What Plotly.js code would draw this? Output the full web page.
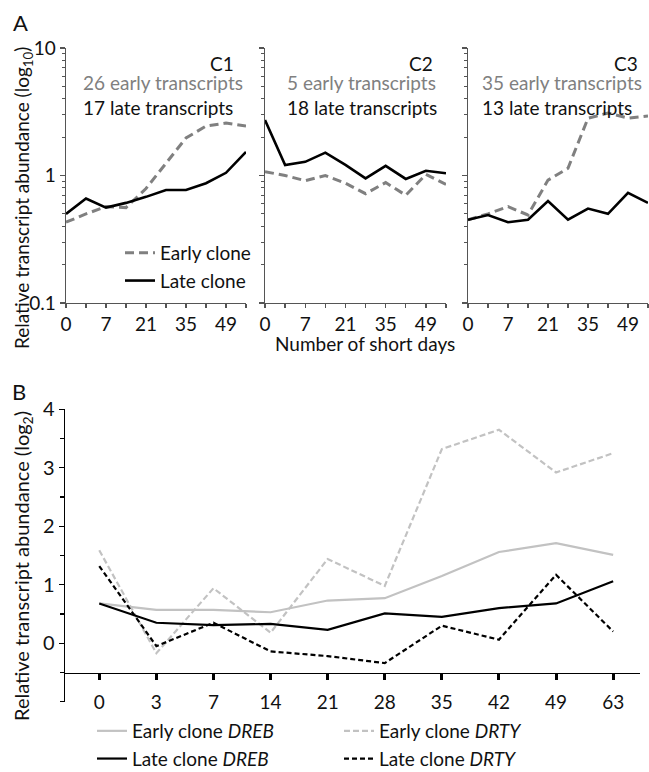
<!DOCTYPE html>
<html>
<head>
<meta charset="utf-8">
<script src="https://cdn.plot.ly/plotly-3.0.1.min.js"></script>
<style>
  html, body { margin: 0; padding: 0; background: #fff; }
  #chart { width: 649px; height: 772px; }
</style>
</head>
<body>
<div id="chart"></div>
<script>
// Sampling days (number of short days) shared by both panels
const sampleDays = ['0', '3', '7', '14', '21', '28', '35', '42', '49', '63'];
// Panel A labels every other sampling day
const labelledDaysA = ['0', '7', '21', '35', '49'];

// Panel A: cluster mean profiles, relative abundance (log10 axis)
const c1Early = [0.43, 0.50, 0.57, 0.56, 0.79, 1.25, 1.97, 2.44, 2.58, 2.44];
const c1Late  = [0.50, 0.66, 0.56, 0.61, 0.68, 0.77, 0.77, 0.87, 1.05, 1.53];
const c2Early = [1.07, 1.00, 0.91, 1.00, 0.87, 0.72, 0.88, 0.70, 1.02, 0.85];
const c2Late  = [2.72, 1.21, 1.28, 1.51, 1.21, 0.95, 1.19, 0.94, 1.09, 1.04];
const c3Early = [0.45, 0.50, 0.57, 0.49, 0.92, 1.14, 2.81, 3.09, 2.82, 2.93];
const c3Late  = [0.45, 0.49, 0.43, 0.45, 0.63, 0.45, 0.55, 0.50, 0.73, 0.61];

const clusterNames = ['C1', 'C2', 'C3'];
const earlyCounts = [26, 5, 35];
const lateCounts = [17, 18, 13];

// Panel B: DREB and DRTY expression (log2)
const earlyDREB = [0.68, 0.57, 0.57, 0.53, 0.73, 0.77, 1.15, 1.56, 1.71, 1.51];
const lateDREB  = [0.68, 0.35, 0.31, 0.33, 0.23, 0.51, 0.45, 0.60, 0.68, 1.06];
const earlyDRTY = [1.59, -0.17, 0.94, 0.18, 1.44, 0.98, 3.32, 3.65, 2.92, 3.25];
const lateDRTY  = [1.32, -0.05, 0.35, -0.14, -0.22, -0.34, 0.30, 0.06, 1.17, 0.20];

// Time points are plotted at equal spacing: position = order of the sampling day
const dayPos = sampleDays.map((_, i) => i);
const labelledPosA = labelledDaysA.map(d => sampleDays.indexOf(d));

const W = 649, H = 772;
const px = v => v / W;
const py = v => 1 - v / H;
const FONT = 'Lato, "Noto Sans", sans-serif';
const GREY_A = '#808080';
const GREY_B = '#c2c2c2';

const traces = [];
const panelA = [[c1Early, c1Late], [c2Early, c2Late], [c3Early, c3Late]];
panelA.forEach((pair, k) => {
  const ax = k === 0 ? '' : String(k + 1);
  traces.push({
    x: dayPos, y: pair[0], xaxis: 'x' + ax, yaxis: 'y' + ax,
    type: 'scatter', mode: 'lines', name: 'Early clone',
    line: { color: GREY_A, width: 3, dash: '9px,5px' },
    legend: 'legend2', showlegend: k === 0
  });
  traces.push({
    x: dayPos, y: pair[1], xaxis: 'x' + ax, yaxis: 'y' + ax,
    type: 'scatter', mode: 'lines', name: 'Late clone',
    line: { color: '#000', width: 2.6 },
    legend: 'legend2', showlegend: k === 0
  });
});

traces.push(
  { x: dayPos, y: earlyDREB, xaxis: 'x4', yaxis: 'y4', type: 'scatter', mode: 'lines',
    name: 'Early clone <i>DREB</i>', line: { color: GREY_B, width: 2.2 } },
  { x: dayPos, y: earlyDRTY, xaxis: 'x4', yaxis: 'y4', type: 'scatter', mode: 'lines',
    name: 'Early clone <i>DRTY</i>', line: { color: GREY_B, width: 2.2, dash: '6px,3px' } },
  { x: dayPos, y: lateDREB, xaxis: 'x4', yaxis: 'y4', type: 'scatter', mode: 'lines',
    name: 'Late clone <i>DREB</i>', line: { color: '#000', width: 2.2 } },
  { x: dayPos, y: lateDRTY, xaxis: 'x4', yaxis: 'y4', type: 'scatter', mode: 'lines',
    name: 'Late clone <i>DRTY</i>', line: { color: '#000', width: 2.2, dash: '5px,3px' } }
);
traces.slice(6).forEach(t => { t.legend = 'legend'; });

const minorLog = [0.2, 0.3, 0.4, 0.5, 0.6, 0.7, 0.8, 0.9, 2, 3, 4, 5, 6, 7, 8, 9];
const AXA = '#555';
function xA(dom, yname) {
  return {
    domain: dom, anchor: yname, type: 'linear', range: [0, dayPos.length - 1],
    tickvals: labelledPosA, ticktext: labelledDaysA,
    ticks: 'outside', ticklen: 4, tickwidth: 1.4, tickcolor: AXA,
    minor: { tickvals: dayPos, ticks: 'outside', ticklen: 4, tickwidth: 1.4, tickcolor: AXA },
    showline: true, linecolor: AXA, linewidth: 1.4,
    showgrid: false, zeroline: false, fixedrange: true,
    tickfont: { size: 19, color: '#111' }
  };
}
function yA(xname, labels) {
  return {
    domain: [py(303), py(48)], anchor: xname, type: 'log', range: [-1, 1],
    tickvals: [0.1, 1, 10], ticktext: ['0.1', '1', '10'], showticklabels: labels,
    ticks: 'outside', ticklen: 5, tickwidth: 1.4, tickcolor: AXA,
    minor: { tickvals: minorLog, ticks: 'outside', ticklen: 3, tickwidth: 1.2, tickcolor: AXA },
    showline: true, linecolor: AXA, linewidth: 1.4,
    showgrid: false, zeroline: false, fixedrange: true,
    tickfont: { size: 19, color: '#111' }
  };
}

const annotations = [
  { text: 'A', x: px(20), y: py(23), font: { size: 22, color: '#111' } },
  { text: 'B', x: px(19), y: py(391), font: { size: 22, color: '#111' } },
  { text: 'Number of short days', x: px(365), y: py(343) },
  { text: 'Relative transcript abundance (log<sub>10</sub>)', x: px(23), y: py(198), textangle: -90 },
  { text: 'Relative transcript abundance (log<sub>2</sub>)', x: px(22), y: py(566), textangle: -90,
    font: { size: 20, color: '#111' } }
];

// Cluster captions: name right-aligned, transcript counts left-aligned beneath
const captionRight = [236, 435, 640];
const captionLeft = [82, 286, 481];
clusterNames.forEach((nm, k) => {
  annotations.push(
    { text: nm, x: px(captionRight[k]), y: py(64), xanchor: 'right' },
    { text: '<span style="color:' + GREY_A + '">' + earlyCounts[k] + ' early transcripts</span><br>' +
            lateCounts[k] + ' late transcripts',
      x: px(captionLeft[k] - 1), y: py(95), xanchor: 'left', align: 'left' }
  );
});
annotations.forEach(a => {
  a.xref = 'paper'; a.yref = 'paper'; a.showarrow = false;
  a.xanchor = a.xanchor || 'center';
  a.yanchor = 'middle';
  a.font = a.font || { size: 19, color: '#111' };
});

const layout = {
  width: W, height: H,
  margin: { l: 0, r: 0, t: 0, b: 0, autoexpand: false },
  paper_bgcolor: '#fff', plot_bgcolor: 'rgba(0,0,0,0)',
  font: { family: FONT, color: '#111' },
  xaxis: xA([px(66), px(246)], 'y'),
  yaxis: yA('x', true),
  xaxis2: xA([px(265), px(446)], 'y2'),
  yaxis2: yA('x2', false),
  xaxis3: xA([px(468), px(648)], 'y3'),
  yaxis3: yA('x3', false),
  xaxis4: {
    domain: [px(65), px(640)], anchor: 'free', position: py(672.7),
    type: 'linear', range: [-0.6, 9.47],
    tickvals: dayPos, ticktext: sampleDays,
    ticks: 'outside', ticklen: 6, tickwidth: 3, tickcolor: '#000', ticklabelstandoff: 6,
    showline: true, linecolor: '#000', linewidth: 1.5,
    showgrid: false, zeroline: false, fixedrange: true,
    tickfont: { size: 19, color: '#111' }
  },
  yaxis4: {
    domain: [py(701.7), py(409.3)], anchor: 'x4', range: [-1, 4],
    tickvals: [0, 1, 2, 3, 4], ticktext: ['0', '1', '2', '3', '4'],
    ticks: 'outside', ticklen: 5, tickwidth: 1.4, tickcolor: '#000',
    minor: { tickvals: [-1, -0.5, 0.5, 1.5, 2.5, 3.5], ticks: 'outside', ticklen: 4, tickwidth: 1.2, tickcolor: '#000' },
    showline: true, linecolor: '#000', linewidth: 1.5,
    showgrid: false, zeroline: false, fixedrange: true,
    tickfont: { size: 20, color: '#111' }
  },
  legend: {
    orientation: 'h', x: px(92), y: py(712), xanchor: 'left', yanchor: 'top',
    entrywidth: 202, bgcolor: 'rgba(0,0,0,0)',
    font: { size: 19, color: '#111' }, traceorder: 'normal'
  },
  legend2: {
    x: px(120), y: py(234), xanchor: 'left', yanchor: 'top',
    bgcolor: 'rgba(0,0,0,0)', font: { size: 19, color: '#111' }, traceorder: 'normal'
  },
  annotations: annotations,
  showlegend: true
};

Plotly.newPlot('chart', traces, layout, { displayModeBar: false, staticPlot: true });
</script>
</body>
</html>
